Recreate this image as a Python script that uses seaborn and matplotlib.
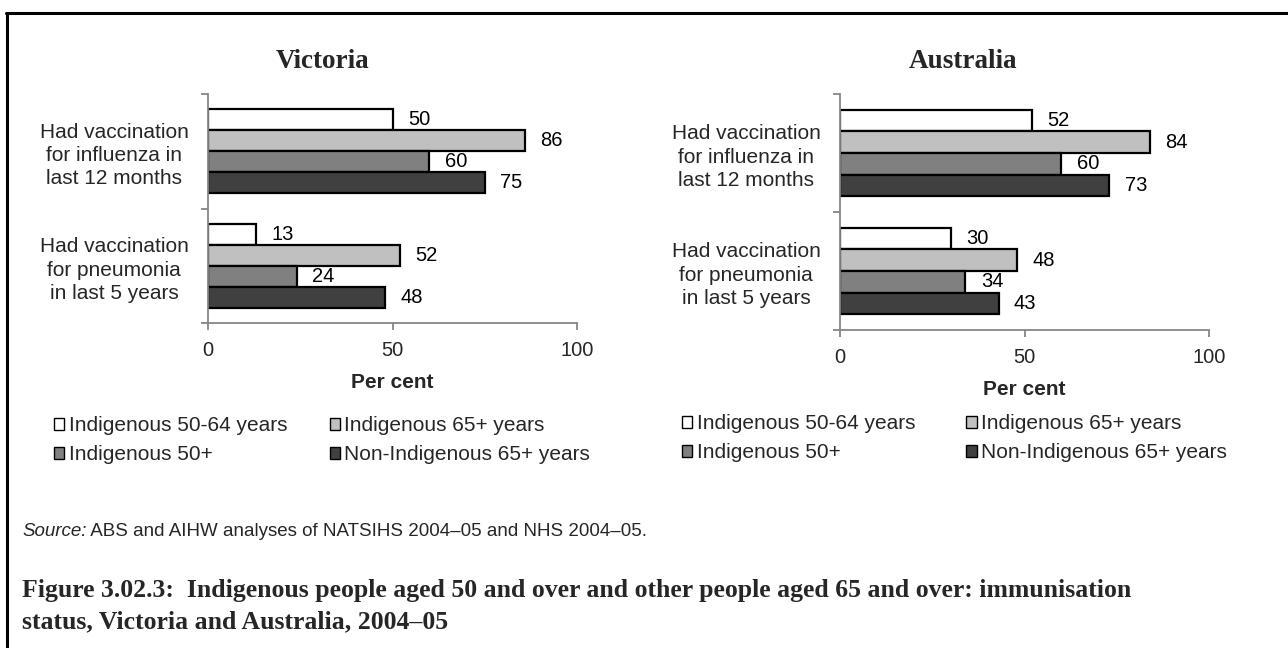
import matplotlib
matplotlib.use("Agg")
import matplotlib.pyplot as plt
import seaborn as sns
import pandas as pd
from matplotlib.patches import Patch
from matplotlib.lines import Line2D

# ---- data -------------------------------------------------------------
categories = [
    "Had vaccination\nfor influenza in\nlast 12 months",
    "Had vaccination\nfor pneumonia\nin last 5 years",
]
groups = [
    "Indigenous 50-64 years",
    "Indigenous 65+ years",
    "Indigenous 50+",
    "Non-Indigenous 65+ years",
]
victoria_influenza = [50, 86, 60, 75]
victoria_pneumonia = [13, 52, 24, 48]
australia_influenza = [52, 84, 60, 73]
australia_pneumonia = [30, 48, 34, 43]
x_ticks = [0, 50, 100]
panel_titles = ["Victoria", "Australia"]
source_lead = "Source:"
source_rest = " ABS and AIHW analyses of NATSIHS 2004\u201305 and NHS 2004\u201305."
caption_lines = [
    "Figure 3.02.3:  Indigenous people aged 50 and over and other people aged 65 and over: immunisation",
    "status, Victoria and Australia, 2004\u201305",
]

# ---- style ------------------------------------------------------------
bar_colors = ["#FFFFFF", "#C0C0C0", "#808080", "#404040"]
axis_grey = "#868686"
SANS = "Liberation Sans"
SERIF = "Liberation Serif"

sns.set_theme(style="white")
plt.rcParams["font.family"] = [SANS, "DejaVu Sans"]

W, H = 1288, 648
fig = plt.figure(figsize=(W / 100, H / 100), dpi=100)
fig.patch.set_facecolor("white")


def fx(px):
    return px / W


def fy(py):
    return 1 - py / H


def draw_panel(rect, influenza, pneumonia, title, title_x, legend_xy, colspacing):
    left, top, right, bottom = rect
    ax = fig.add_axes([fx(left), fy(bottom), fx(right - left), (bottom - top) / H])
    df = pd.DataFrame({
        "category": [categories[0]] * len(groups) + [categories[1]] * len(groups),
        "group": groups * 2,
        "value": influenza + pneumonia,
    })
    sns.barplot(
        data=df, x="value", y="category", hue="group",
        order=categories, hue_order=groups, orient="h",
        palette=bar_colors, saturation=1, width=0.73,
        edgecolor="black", linewidth=1.6, errorbar=None,
        legend=False, ax=ax,
    )
    for cont in ax.containers:
        ax.bar_label(cont, padding=11, fontsize=14.5, color="black")

    ax.set_facecolor("white")
    ax.set_xlim(0, 100)
    ax.set_ylim(1.5, -0.5)
    ax.set_xticks(x_ticks)
    ax.set_xticklabels([str(t) for t in x_ticks], fontsize=14.5)
    ax.set_yticks([-0.5, 0.5, 1.5])
    ax.set_yticklabels([])
    ax.set_yticks([0, 1], labels=categories, minor=True)
    for lbl in ax.get_yticklabels(minor=True):
        lbl.set_multialignment("center")
        lbl.set_fontsize(15)
        lbl.set_linespacing(1.3)
    ax.tick_params(axis="y", which="minor", length=0, pad=14)
    ax.tick_params(axis="y", which="major", length=5, width=1.3,
                   color=axis_grey, direction="out", left=True)
    ax.tick_params(axis="x", which="major", length=5, width=1.3,
                   color=axis_grey, direction="out", bottom=True, pad=8)
    for side in ("top", "right"):
        ax.spines[side].set_visible(False)
    for side in ("left", "bottom"):
        ax.spines[side].set_color(axis_grey)
        ax.spines[side].set_linewidth(1.3)
    ax.set_ylabel("")
    ax.set_xlabel("Per cent", fontsize=15, fontweight="bold", labelpad=9)

    fig.text(fx(title_x), fy(62), title, ha="center", va="center",
             fontsize=19.5, fontweight="bold", family=SERIF)

    # legend reads row by row: 50-64 | 65+ / 50+ | non-Indigenous 65+
    order = [0, 2, 1, 3]
    handles = [Patch(facecolor=bar_colors[i], edgecolor="black", linewidth=1.0) for i in order]
    labels = [groups[i] for i in order]
    ax.legend(
        handles, labels, ncol=2, loc="upper left",
        bbox_to_anchor=(fx(legend_xy[0]), fy(legend_xy[1])),
        bbox_transform=fig.transFigure, frameon=False,
        fontsize=15, handlelength=0.5, handleheight=0.5,
        handletextpad=0.2, columnspacing=colspacing,
        labelspacing=0.5, borderpad=0, borderaxespad=0,
    )
    return ax


draw_panel((208, 94, 577, 323), victoria_influenza, victoria_pneumonia,
           panel_titles[0], 323, (54, 416), 2.05)
draw_panel((840, 94, 1209, 330), australia_influenza, australia_pneumonia,
           panel_titles[1], 963, (682, 414), 2.45)

# ---- source note and figure caption -----------------------------------
lead = fig.text(fx(22), fy(532), source_lead, ha="left", va="center",
                fontsize=13.5, style="italic")
fig.canvas.draw()
bb = lead.get_window_extent()
fig.text(bb.x1 / W, fy(532), source_rest, ha="left", va="center", fontsize=13.5)

for i, line in enumerate(caption_lines):
    fig.text(fx(22), fy(590 + 32 * i), line, ha="left", va="center",
             fontsize=18.5, fontweight="bold", family=SERIF)

# ---- page frame (top and left rules) ----------------------------------
fig.add_artist(Line2D([fx(6), 1.0], [fy(13), fy(13)], color="black", linewidth=2.2,
                      transform=fig.transFigure))
fig.add_artist(Line2D([fx(7), fx(7)], [fy(13), 0.0], color="black", linewidth=2.2,
                      transform=fig.transFigure))

fig.savefig("out.png", dpi=100, facecolor="white")
